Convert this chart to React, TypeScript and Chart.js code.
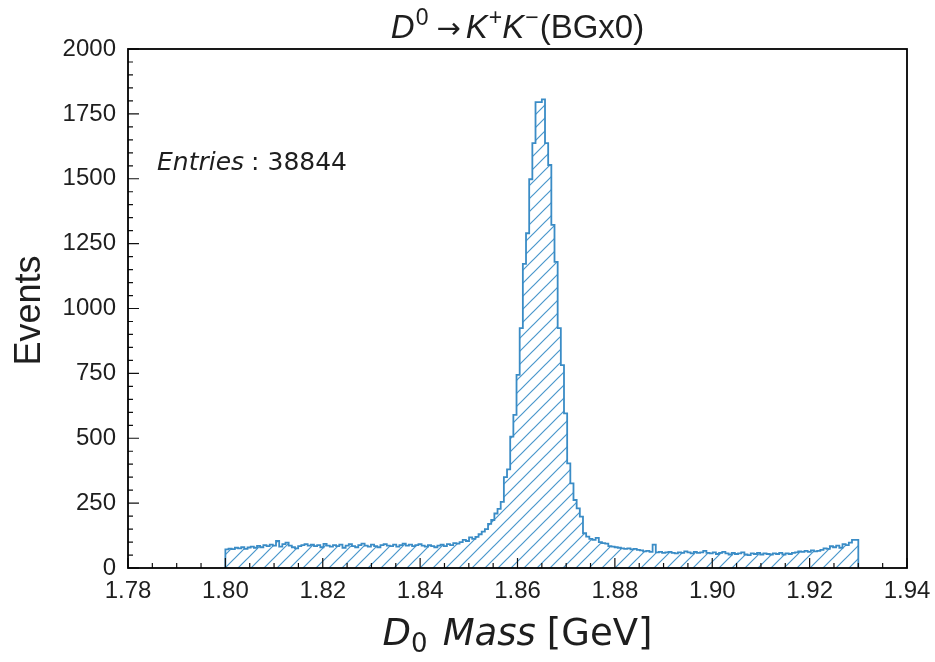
import React, { useEffect, useRef } from "react";
import { Chart, registerables } from "chart.js";

Chart.register(...registerables);

// ---- data ----
const BIN_LO = 1.8;
const BIN_HI = 1.93;
const COUNTS = [
  62, 72, 75, 73, 78, 76, 80, 74, 79, 82,
  78, 85, 80, 88, 84, 90, 86, 104, 82, 92,
  98, 86, 80, 76, 84, 88, 92, 86, 90, 84,
  88, 80, 93, 86, 82, 88, 84, 90, 78, 86,
  92, 84, 80, 88, 94, 86, 82, 90, 84, 80,
  88, 92, 86, 84, 90, 82, 88, 94, 86, 90,
  84, 88, 92, 86, 82, 88, 84, 80, 86, 90,
  84, 92, 88, 96, 94, 100, 108, 104, 118, 112,
  120, 130, 140, 150, 170, 185, 210, 228, 255, 350,
  380, 506, 590, 744, 924, 1172, 1290, 1498, 1637, 1795,
  1795, 1806, 1637, 1553, 1322, 1180, 924, 782, 596, 403,
  326, 262, 230, 198, 134, 121, 112, 108, 116, 100,
  96, 94, 84, 82, 80, 78, 76, 74, 76, 72,
  74, 70, 68, 64, 66, 62, 90, 60, 62, 58,
  60, 62, 58, 56, 60, 58, 64, 60, 56, 62,
  58, 60, 66, 58, 56, 60, 54, 58, 62, 56,
  52, 58, 54, 56, 60, 52, 50, 56, 54, 58,
  52, 56, 54, 52, 56, 54, 58, 52, 56, 54,
  58, 60, 64, 62, 66, 62, 68, 64, 66, 70,
  76, 74, 84, 80, 86, 78, 92, 88, 98, 108,
];
const X_TICKS = [1.78, 1.8, 1.82, 1.84, 1.86, 1.88, 1.9, 1.92, 1.94];
const Y_TICKS = [0, 250, 500, 750, 1000, 1250, 1500, 1750, 2000];
const X_MINOR_PER_MAJOR = 3;
const Y_MINOR_PER_MAJOR = 4;
const ENTRIES = 38844;

// ---- style ----
const W = 935;
const H = 662;
const EDGE = "#3a8cc6";
const HATCH = "#4a97cc";
const TEXT = "#1e1e1e";
const SANS = '"Liberation Sans", Arial, Helvetica, sans-serif';
const DEJAVU = '"DejaVu Sans", sans-serif';

type Seg = { t: string; font: string; dy?: number; gap?: number };

function drawRich(ctx: CanvasRenderingContext2D, segs: Seg[], x: number, y: number, align: "left" | "center") {
  let w = 0;
  for (const s of segs) {
    ctx.font = s.font;
    w += ctx.measureText(s.t).width + (s.gap || 0);
  }
  let cx = align === "center" ? x - w / 2 : x;
  ctx.textAlign = "left";
  ctx.textBaseline = "alphabetic";
  for (const s of segs) {
    ctx.font = s.font;
    ctx.fillText(s.t, cx, y + (s.dy || 0));
    cx += ctx.measureText(s.t).width + (s.gap || 0);
  }
}

function makeHatch(): CanvasPattern | string {
  const p = document.createElement("canvas");
  const s = 13;
  p.width = s;
  p.height = s;
  const c = p.getContext("2d");
  if (!c) return "rgba(0,0,0,0)";
  c.strokeStyle = HATCH;
  c.lineWidth = 1.2;
  c.beginPath();
  c.moveTo(-2, s + 2);
  c.lineTo(s + 2, -2);
  c.moveTo(-2, 2);
  c.lineTo(2, -2);
  c.moveTo(s - 2, s + 2);
  c.lineTo(s + 2, s - 2);
  c.stroke();
  const pat = c.createPattern(p, "repeat");
  return pat || "rgba(0,0,0,0)";
}

const decorPlugin = {
  id: "decor",
  afterDraw(chart: any) {
    const ctx: CanvasRenderingContext2D = chart.ctx;
    const a = chart.chartArea;
    const xs = chart.scales.x;
    const ys = chart.scales.y;
    ctx.save();
    // ticks (inward)
    ctx.strokeStyle = "#111";
    ctx.lineWidth = 1.2;
    ctx.beginPath();
    for (let i = 0; i < X_TICKS.length; i++) {
      const px = xs.getPixelForValue(X_TICKS[i]);
      ctx.moveTo(px, a.bottom);
      ctx.lineTo(px, a.bottom - 10);
      if (i < X_TICKS.length - 1) {
        const step = (X_TICKS[i + 1] - X_TICKS[i]) / (X_MINOR_PER_MAJOR + 1);
        for (let k = 1; k <= X_MINOR_PER_MAJOR; k++) {
          const mx = xs.getPixelForValue(X_TICKS[i] + k * step);
          ctx.moveTo(mx, a.bottom);
          ctx.lineTo(mx, a.bottom - 5);
        }
      }
    }
    for (let i = 0; i < Y_TICKS.length; i++) {
      const py = ys.getPixelForValue(Y_TICKS[i]);
      ctx.moveTo(a.left, py);
      ctx.lineTo(a.left + 11, py);
      if (i < Y_TICKS.length - 1) {
        const step = (Y_TICKS[i + 1] - Y_TICKS[i]) / (Y_MINOR_PER_MAJOR + 1);
        for (let k = 1; k <= Y_MINOR_PER_MAJOR; k++) {
          const my = ys.getPixelForValue(Y_TICKS[i] + k * step);
          ctx.moveTo(a.left, my);
          ctx.lineTo(a.left + 5, my);
        }
      }
    }
    ctx.stroke();
    // frame
    ctx.lineWidth = 1.8;
    ctx.strokeStyle = "#000";
    ctx.strokeRect(a.left, a.top, a.right - a.left, a.bottom - a.top);

    ctx.fillStyle = TEXT;
    // title
    const cxm = (a.left + a.right) / 2;
    drawRich(
      ctx,
      [
        { t: "D", font: `italic 33px ${SANS}`, gap: 1 },
        { t: "0", font: `23px ${SANS}`, dy: -13, gap: 8 },
        { t: "\u2192", font: `29px ${DEJAVU}`, gap: 5 },
        { t: "K", font: `italic 33px ${SANS}`, gap: 1 },
        { t: "+", font: `23px ${SANS}`, dy: -13 },
        { t: "K", font: `italic 33px ${SANS}`, gap: 1 },
        { t: "\u2212", font: `23px ${SANS}`, dy: -13, gap: 1 },
        { t: "(BGx0)", font: `33px ${SANS}` },
      ],
      cxm,
      38,
      "center"
    );
    // x label
    drawRich(
      ctx,
      [
        { t: "D", font: `italic 37px ${DEJAVU}` },
        { t: "0", font: `26px ${DEJAVU}`, dy: 7, gap: 15 },
        { t: "Mass", font: `italic 37px ${DEJAVU}`, gap: 11 },
        { t: "[GeV]", font: `37px ${DEJAVU}` },
      ],
      cxm,
      645,
      "center"
    );
    // y label
    ctx.save();
    ctx.translate(40, (a.top + a.bottom) / 2 + 2);
    ctx.rotate(-Math.PI / 2);
    ctx.font = `36px ${SANS}`;
    ctx.textAlign = "center";
    ctx.textBaseline = "alphabetic";
    ctx.fillText("Events", 0, 0);
    ctx.restore();
    // entries
    drawRich(
      ctx,
      [
        { t: "Entries", font: `italic 25px ${DEJAVU}`, gap: 7 },
        { t: ":", font: `25px ${DEJAVU}`, gap: 8 },
        { t: String(ENTRIES), font: `25px ${DEJAVU}` },
      ],
      157,
      170,
      "left"
    );
    ctx.restore();
  },
};

export default function App() {
  const ref = useRef<HTMLCanvasElement | null>(null);
  useEffect(() => {
    const canvas = ref.current;
    if (!canvas) return;
    const width = (BIN_HI - BIN_LO) / COUNTS.length;
    const pts: { x: number; y: number }[] = [{ x: BIN_LO, y: 0 }];
    COUNTS.forEach((c, i) => pts.push({ x: BIN_LO + i * width, y: c }));
    pts.push({ x: BIN_HI, y: COUNTS[COUNTS.length - 1] });
    pts.push({ x: BIN_HI, y: 0 });

    const chart = new Chart(canvas, {
      type: "line",
      data: {
        datasets: [
          {
            data: pts,
            stepped: "after",
            borderColor: EDGE,
            borderWidth: 1.8,
            backgroundColor: makeHatch() as any,
            fill: "origin",
            pointRadius: 0,
            tension: 0,
          },
        ],
      },
      options: {
        animation: false,
        responsive: false,
        devicePixelRatio: 1,
        events: [],
        layout: { padding: { left: 0, right: 28, top: 49, bottom: 0 } },
        plugins: { legend: { display: false }, tooltip: { enabled: false }, title: { display: false } },
        scales: {
          x: {
            type: "linear",
            min: X_TICKS[0],
            max: X_TICKS[X_TICKS.length - 1],
            grid: { display: false, drawTicks: false },
            border: { display: false },
            afterBuildTicks: (s: any) => {
              s.ticks = X_TICKS.map((v) => ({ value: v }));
            },
            afterFit: (s: any) => {
              s.height = 94;
              s.paddingLeft = 0;
              s.paddingRight = 0;
            },
            ticks: {
              autoSkip: false,
              maxRotation: 0,
              padding: 9,
              color: TEXT,
              font: { family: SANS, size: 24 },
              callback: (v: any) => Number(v).toFixed(2),
            },
          },
          y: {
            type: "linear",
            min: Y_TICKS[0],
            max: Y_TICKS[Y_TICKS.length - 1],
            grid: { display: false, drawTicks: false },
            border: { display: false },
            afterBuildTicks: (s: any) => {
              s.ticks = Y_TICKS.map((v) => ({ value: v }));
            },
            afterFit: (s: any) => {
              s.width = 128;
              s.paddingTop = 0;
              s.paddingBottom = 0;
            },
            ticks: {
              padding: 12,
              color: TEXT,
              font: { family: SANS, size: 24 },
              callback: (v: any) => String(v),
            },
          },
        },
      },
      plugins: [decorPlugin],
    });
    return () => chart.destroy();
  }, []);

  return (
    <div style={{ position: "fixed", left: 0, top: 0, width: W, height: H, background: "#fff" }}>
      <canvas ref={ref} width={W} height={H} style={{ display: "block", width: W, height: H }} />
    </div>
  );
}
